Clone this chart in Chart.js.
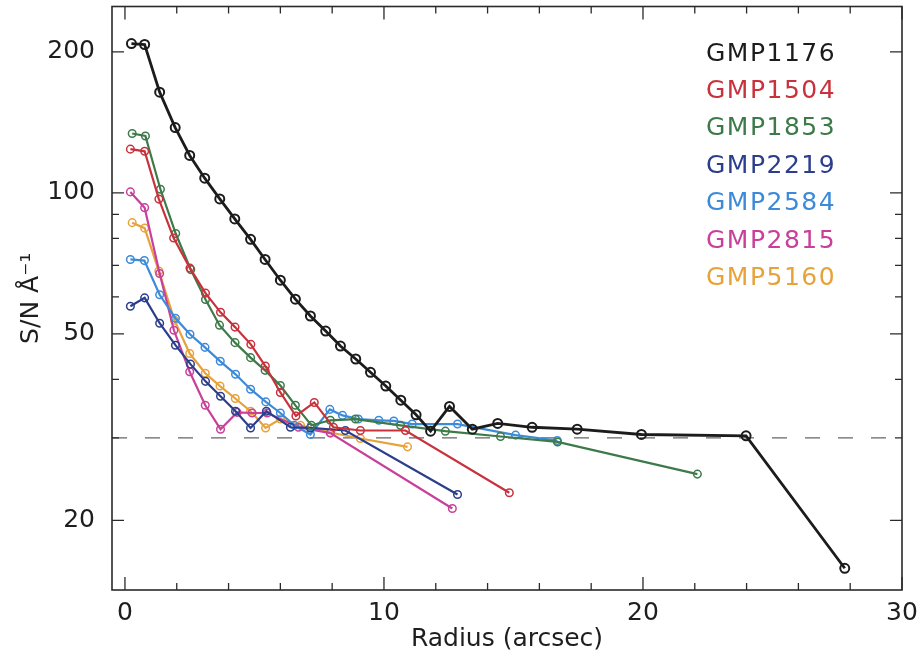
<!DOCTYPE html>
<html><head><meta charset="utf-8">
<script src="https://cdn.jsdelivr.net/npm/chart.js@4.4.1/dist/chart.umd.min.js"></script>
<style>html,body{margin:0;padding:0;background:#fff}#wrap{width:920px;height:657px}</style>
</head><body><div id="wrap"><canvas id="c" width="920" height="657"></canvas></div>
<script>
// ---- data ----
const galaxyNames = ['GMP1176','GMP1504','GMP1853','GMP2219','GMP2584','GMP2815','GMP5160'];
const galaxyColors = ['#1c1c1c','#c8323c','#3d7a4a','#2b3e8c','#3c8ad8','#c8409a','#e8a23a'];

const r1176  = [0.25,0.76,1.34,1.94,2.50,3.08,3.66,4.24,4.85,5.41,6.00,6.58,7.16,7.75,8.32,8.91,9.48,10.07,10.65,11.24,11.80,12.53,13.41,14.39,15.72,17.46,19.94,23.98,27.79];
const sn1176 = [208.4,207.4,164.1,137.9,120.2,107.5,97.1,88.0,79.6,72.1,65.1,59.3,54.6,50.7,47.1,44.2,41.4,38.7,36.1,33.6,31.0,35.0,31.3,32.2,31.6,31.3,30.5,30.3,15.8];

const r1504  = [0.21,0.76,1.31,1.88,2.51,3.11,3.69,4.25,4.86,5.42,6.00,6.60,7.31,8.05,9.09,10.83,14.84];
const sn1504 = [124.0,122.7,97.0,80.1,69.1,61.1,55.6,51.7,47.5,42.7,37.5,33.4,35.7,31.6,31.1,31.1,22.9];

const r1853  = [0.28,0.79,1.37,1.96,2.54,3.11,3.65,4.25,4.85,5.41,6.00,6.58,7.20,7.93,8.90,10.64,12.37,14.50,16.70,22.10];
const sn1853 = [133.9,132.3,101.8,81.9,68.6,59.2,52.2,47.9,44.5,41.8,38.8,35.2,31.9,32.7,32.9,31.9,31.0,30.2,29.4,25.1];

const r2219  = [0.21,0.76,1.34,1.95,2.53,3.11,3.69,4.27,4.85,5.46,6.39,7.16,8.51,12.84];
const sn2219 = [57.3,59.7,52.7,47.3,43.1,39.6,36.8,34.2,31.5,34.2,31.6,31.5,31.1,22.7];

const r2584  = [0.21,0.75,1.34,1.95,2.51,3.09,3.68,4.27,4.85,5.44,6.00,6.54,7.16,7.91,8.40,9.01,9.80,10.38,11.09,12.84,15.08,16.69];
const sn2584 = [72.1,71.7,60.6,54.0,49.9,46.8,43.7,41.0,38.1,35.8,33.9,31.9,30.5,34.5,33.5,32.9,32.7,32.6,32.1,32.1,30.4,29.6];

const r2815  = [0.21,0.76,1.34,1.89,2.50,3.10,3.69,4.33,4.91,5.49,6.70,7.93,12.64];
const sn2815 = [100.5,93.0,67.3,50.9,41.5,35.2,31.3,34.0,33.9,33.9,31.6,30.7,21.2];

const r5160  = [0.28,0.76,1.31,1.91,2.50,3.10,3.67,4.26,4.85,5.43,6.00,6.78,7.93,9.09,10.91];
const sn5160 = [86.4,84.1,68.1,53.5,45.4,41.2,38.7,36.4,34.2,31.5,32.9,31.9,30.8,29.9,28.7];

const thresholdSN = 30;
const xTickValues = [0,2,4,6,8,10,12,14,16,18,20,22,24,26,28,30];
const xLabelValues = [0,10,20,30];
const yTickValues = [20,30,40,50,60,70,80,90,100,200];
const yLabelValues = [20,50,100,200];
// -----------------------------------

const radii = [r1176,r1504,r1853,r2219,r2584,r2815,r5160];
const sns   = [sn1176,sn1504,sn1853,sn2219,sn2584,sn2815,sn5160];

const datasets = galaxyNames.map((name,i) => ({
  label: name,
  data: radii[i].map((r,k) => ({x:r, y:sns[i][k]})),
  borderColor: galaxyColors[i],
  backgroundColor: 'rgba(0,0,0,0)',
  pointBorderColor: galaxyColors[i],
  pointBackgroundColor: 'rgba(0,0,0,0)',
  borderWidth: i === 0 ? 2.8 : 2.2,
  pointRadius: i === 0 ? 4.5 : 3.8,
  pointBorderWidth: i === 0 ? 2 : 1.5,
  tension: 0,
  order: i
}));
datasets.push({
  label: 'threshold',
  data: [{x:-0.5, y:thresholdSN},{x:30, y:thresholdSN}],
  borderColor: '#666',
  borderWidth: 1.4,
  borderDash: [15,18],
  pointRadius: 0,
  order: 20
});

const frameTicks = {
  id: 'frameTicks',
  afterDatasetsDraw(chart) {
    const {ctx, chartArea: a, scales: {x, y}} = chart;
    ctx.save();
    ctx.strokeStyle = '#2a2a2a';
    ctx.lineWidth = 1.6;
    ctx.strokeRect(a.left, a.top, a.right - a.left, a.bottom - a.top);
    ctx.lineWidth = 1.3;
    ctx.beginPath();
    x.ticks.forEach(t => {
      const px = x.getPixelForValue(t.value);
      const len = xLabelValues.includes(t.value) ? 13 : 7;
      ctx.moveTo(px, a.bottom); ctx.lineTo(px, a.bottom - len);
      ctx.moveTo(px, a.top); ctx.lineTo(px, a.top + len);
    });
    y.ticks.forEach(t => {
      const py = y.getPixelForValue(t.value);
      const len = yLabelValues.includes(t.value) ? 12 : 7;
      ctx.moveTo(a.left, py); ctx.lineTo(a.left + len, py);
      ctx.moveTo(a.right, py); ctx.lineTo(a.right - len, py);
    });
    ctx.stroke();
    ctx.restore();
  },
  afterDraw(chart) {
    const {ctx} = chart;
    ctx.save();
    ctx.font = '25px "DejaVu Sans"';
    if ('letterSpacing' in ctx) ctx.letterSpacing = '1.5px';
    ctx.textAlign = 'left';
    ctx.textBaseline = 'middle';
    galaxyNames.forEach((n, i) => {
      ctx.fillStyle = galaxyColors[i];
      ctx.fillText(n, 706, 54 + i * 37.4);
    });
    ctx.restore();
  }
};

new Chart(document.getElementById('c'), {
  type: 'line',
  data: { datasets },
  plugins: [frameTicks],
  options: {
    responsive: false,
    animation: false,
    devicePixelRatio: 1,
    layout: { padding: { left: 0, right: 18, top: 6, bottom: 0 } },
    plugins: { legend: { display: false }, tooltip: { enabled: false } },
    scales: {
      x: {
        type: 'linear', min: -0.5, max: 30,
        afterBuildTicks: s => { s.ticks = xTickValues.map(v => ({value: v})); },
        afterFit: s => { s.height = 67; s.paddingLeft = 0; s.paddingRight = 0; },
        grid: { display: false },
        border: { display: false },
        ticks: {
          autoSkip: false, maxRotation: 0, padding: 0,
          color: '#1e1e1e',
          font: { family: 'DejaVu Sans', size: 25 },
          callback: v => xLabelValues.includes(v) ? String(v) : ''
        },
        title: {
          display: true, text: 'Radius (arcsec)', color: '#1e1e1e',
          font: { family: 'DejaVu Sans', size: 25 },
          padding: { top: 0, bottom: 3 }
        }
      },
      y: {
        type: 'logarithmic', min: 14.2, max: 250,
        afterBuildTicks: s => { s.ticks = yTickValues.map(v => ({value: v})); },
        afterFit: s => { s.width = 112; s.paddingTop = 0; s.paddingBottom = 0; },
        grid: { display: false },
        border: { display: false },
        ticks: {
          autoSkip: false, padding: 9,
          color: '#1e1e1e',
          font: { family: 'DejaVu Sans', size: 25 },
          callback: v => yLabelValues.includes(v) ? String(v) : ''
        },
        title: {
          display: true, text: 'S/N Å⁻¹', color: '#1e1e1e',
          font: { family: 'DejaVu Sans', size: 25 },
          padding: { top: 16, bottom: 0 }
        }
      }
    }
  }
});
</script>
</body></html>
